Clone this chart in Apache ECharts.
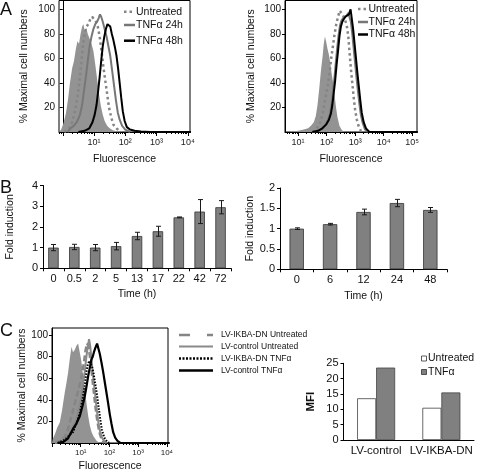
<!DOCTYPE html>
<html><head><meta charset="utf-8">
<script src="https://cdn.jsdelivr.net/npm/echarts@6/dist/echarts.min.js"></script>
<style>html,body{margin:0;padding:0;background:#fff}#c{width:477px;height:473px}</style>
</head><body><div id="c"></div><script>
// ---------- DATA ----------
// Panel A left: x = log10(fluorescence), y = % maximal cell numbers
const aL_isotype = [[-0.12,0],[-0.05,2],[0.02,7],[0.1,15],[0.17,27],[0.23,40],[0.3,52],[0.36,58],[0.42,68],[0.47,74],[0.52,72],[0.57,80],[0.62,86],[0.66,88],[0.7,83],[0.75,85],[0.8,80],[0.86,76],[0.92,72],[0.98,66],[1.04,55],[1.1,43],[1.16,31],[1.22,21],[1.28,14],[1.34,9],[1.42,5],[1.5,3],[1.6,1.5],[1.75,0.5],[1.9,0]];
const aL_untreated = [[0.05,0],[0.2,3],[0.3,8],[0.4,18],[0.48,30],[0.55,45],[0.6,58],[0.65,72],[0.7,80],[0.76,86],[0.82,88],[0.88,92],[0.94,94],[1.0,93],[1.06,90],[1.12,86],[1.18,78],[1.24,66],[1.3,53],[1.36,42],[1.42,31],[1.48,20],[1.55,12],[1.62,6],[1.72,3],[1.85,0]];
const aL_tnf24 = [[0.15,0],[0.25,3],[0.35,5],[0.45,8],[0.55,14],[0.62,22],[0.68,34],[0.74,45],[0.8,58],[0.86,70],[0.92,78],[0.98,84],[1.04,88],[1.1,90],[1.15,93],[1.19,96],[1.23,94],[1.28,90],[1.34,84],[1.4,78],[1.46,70],[1.52,62],[1.58,50],[1.64,38],[1.7,26],[1.76,16],[1.82,10],[1.9,5],[2.0,2],[2.15,0]];
const aL_tnf48 = [[0.5,0],[0.7,1],[0.85,3],[0.95,8],[1.02,14],[1.08,22],[1.13,33],[1.18,45],[1.23,58],[1.28,70],[1.33,78],[1.38,84],[1.43,88],[1.47,89],[1.52,86],[1.57,80],[1.62,75],[1.67,69],[1.72,62],[1.77,52],[1.82,40],[1.87,28],[1.92,17],[1.98,9],[2.05,4],[2.15,2],[2.3,1],[2.5,0.5],[2.8,0],[4.1,0]];
// Panel A right
const aR_isotype = [[0.54,0],[0.8,0.5],[1.0,1],[1.2,2],[1.35,3],[1.45,5],[1.55,8],[1.62,13],[1.68,22],[1.74,35],[1.8,50],[1.86,62],[1.9,72],[1.94,78],[1.98,74],[2.03,68],[2.08,63],[2.13,56],[2.18,47],[2.23,40],[2.28,30],[2.33,20],[2.38,12],[2.45,5],[2.52,2],[2.6,0]];
const aR_untreated = [[1.5,0],[1.65,3],[1.78,8],[1.88,17],[1.96,28],[2.04,38],[2.1,48],[2.16,60],[2.22,70],[2.28,80],[2.34,88],[2.4,94],[2.46,99],[2.52,97],[2.58,95],[2.64,94],[2.7,88],[2.76,78],[2.8,66],[2.85,52],[2.9,40],[2.95,28],[3.0,18],[3.06,10],[3.12,5],[3.2,1],[3.3,0]];
const aR_tnf24 = [[1.5,0],[1.7,1],[1.85,3],[1.96,6],[2.05,10],[2.12,15],[2.17,22],[2.22,32],[2.27,43],[2.32,56],[2.37,68],[2.42,79],[2.47,87],[2.52,91],[2.58,93],[2.64,94],[2.7,95],[2.76,97],[2.8,96],[2.85,90],[2.9,80],[2.95,68],[3.0,56],[3.05,44],[3.1,33],[3.15,23],[3.2,14],[3.27,7],[3.35,2],[3.45,0]];
const aR_tnf48 = [[1.5,0],[1.7,1],[1.85,3],[1.98,6],[2.08,10],[2.15,15],[2.2,22],[2.25,32],[2.3,42],[2.35,55],[2.4,66],[2.45,78],[2.5,86],[2.55,90],[2.6,92],[2.66,94],[2.72,95],[2.78,96],[2.84,100],[2.88,93],[2.93,84],[2.98,72],[3.03,60],[3.08,48],[3.13,37],[3.18,26],[3.23,16],[3.3,8],[3.38,3],[3.5,0],[5.2,0]];
// Panel B
const bL_times = ['0','0.5','2','5','13','17','22','42','72'];
const bL_fold = [1.0,1.03,1.0,1.07,1.56,1.79,2.46,2.74,2.95];
const bL_err = [0.15,0.13,0.15,0.18,0.18,0.24,0.02,0.58,0.32];
const bR_times = ['0','6','12','24','48'];
const bR_fold = [1.0,1.11,1.41,1.63,1.46];
const bR_err = [0.02,0.02,0.07,0.09,0.06];
// Panel C left
const cL_isotype = [[0,0],[0.03,4],[0.1,8],[0.18,14],[0.27,19],[0.35,30],[0.44,46],[0.5,55],[0.56,65],[0.62,78],[0.68,89],[0.73,84],[0.79,86],[0.85,90],[0.91,92],[0.96,85],[1.02,76],[1.08,63],[1.14,50],[1.2,37],[1.26,25],[1.32,16],[1.38,10],[1.45,6],[1.55,2],[1.66,0]];
const cL_ikbaUntreated = [[0.1,0],[0.3,2],[0.45,6],[0.55,12],[0.65,22],[0.75,32],[0.85,42],[0.93,50],[1.0,58],[1.06,66],[1.12,76],[1.17,86],[1.22,92],[1.27,90],[1.32,80],[1.37,70],[1.42,56],[1.47,44],[1.52,32],[1.58,20],[1.65,10],[1.72,4],[1.82,0]];
const cL_ctrlUntreated = [[0.1,0],[0.35,2],[0.55,6],[0.7,14],[0.85,22],[0.95,34],[1.02,42],[1.08,55],[1.14,66],[1.19,78],[1.24,88],[1.29,96],[1.33,90],[1.38,76],[1.43,62],[1.49,48],[1.55,33],[1.61,20],[1.67,11],[1.74,5],[1.83,1],[1.9,0]];
const cL_ikbaTnf = [[0.2,0],[0.45,3],[0.6,7],[0.73,10],[0.85,18],[0.97,28],[1.06,40],[1.14,53],[1.2,66],[1.25,73],[1.3,76],[1.35,77],[1.4,70],[1.45,64],[1.5,56],[1.56,46],[1.62,34],[1.68,22],[1.74,12],[1.82,5],[1.92,1],[2.0,0]];
const cL_ctrlTnf = [[0.2,0],[0.4,1],[0.55,4],[0.73,13],[0.85,18],[0.97,25],[1.06,34],[1.14,43],[1.2,52],[1.26,62],[1.32,70],[1.37,77],[1.42,80],[1.46,84],[1.51,88],[1.57,92],[1.62,87],[1.66,83],[1.72,75],[1.78,66],[1.84,56],[1.9,46],[1.96,36],[2.01,27],[2.07,18],[2.13,10],[2.2,5],[2.28,2],[2.38,0],[4.1,0]];
// Panel C right
const cR_groups = ['LV-control','LV-IKBA-DN'];
const cR_untreated = [13.6,10.5];
const cR_tnf = [23.6,15.5];
// tick labels
const histPctTicks = [20,40,60,80,100];

// ---------- STYLE / BUILD ----------
const FONT = "'Liberation Sans', Arial, sans-serif";
const SUP = ['\u2070','\u00B9','\u00B2','\u00B3','\u2074','\u2075'];
const GRAY_FILL = '#939393', GRAY_LINE = '#858585', BAR = '#808080';

function logTicks(lo, hi){
  const major=[], minor=[];
  for(let n=Math.floor(lo); n<=Math.ceil(hi); n++){
    if(n>=lo && n<=hi) major.push(n);
    for(let k=2;k<10;k++){ const v=n+Math.log10(k); if(v>=lo && v<=hi) minor.push(v); }
  }
  return {major, minor};
}
function histX(g, lo, hi, labels, fs, gap){
  const t = logTicks(lo, hi);
  return [
    {gridIndex:g, type:'value', min:lo, max:hi, position:'bottom',
     axisLine:{show:true, lineStyle:{color:'#000', width:1}},
     axisTick:{show:true, customValues:t.major, length:4, lineStyle:{color:'#000'}},
     axisLabel:{customValues:labels, formatter:v=>'10'+SUP[Math.round(v)], fontSize:fs, color:'#222', margin:6, fontFamily:FONT},
     splitLine:{show:false},
     name:'Fluorescence', nameLocation:'middle', nameGap:gap, nameTextStyle:{fontSize:10.5, color:'#111', fontFamily:FONT}},
    {gridIndex:g, type:'value', min:lo, max:hi, position:'bottom', axisLine:{show:false},
     axisTick:{show:true, customValues:t.minor, length:2, lineStyle:{color:'#000'}},
     axisLabel:{show:false}, splitLine:{show:false}}
  ];
}
function histY(g, max, gap){
  return {gridIndex:g, type:'value', min:0, max:max,
    axisLine:{show:true, lineStyle:{color:'#000'}},
    axisTick:{show:true, length:3, customValues:histPctTicks, lineStyle:{color:'#000'}},
    axisLabel:{customValues:histPctTicks, fontSize:10, color:'#111', margin:4, fontFamily:FONT},
    splitLine:{show:false},
    name:'% Maximal cell numbers', nameLocation:'middle', nameGap:gap,
    nameTextStyle:{fontSize:10.5, color:'#111', fontFamily:FONT}};
}
function catX(g, cats, name, gap, fs){
  return {gridIndex:g, type:'category', data:cats,
    axisLine:{show:true, lineStyle:{color:'#000'}},
    axisTick:{show:true, length:3, lineStyle:{color:'#000'}},
    axisLabel:{fontSize:fs, color:'#111', margin:5, interval:0, fontFamily:FONT},
    name:name, nameLocation:'middle', nameGap:gap, nameTextStyle:{fontSize:10.5, color:'#111', fontFamily:FONT}};
}
function valY(g, max, interval, name, gap, fs, bold){
  return {gridIndex:g, type:'value', min:0, max:max, interval:interval,
    axisLine:{show:true, lineStyle:{color:'#000'}},
    axisTick:{show:true, length:3, lineStyle:{color:'#000'}},
    axisLabel:{fontSize:fs, color:'#111', margin:5, fontFamily:FONT},
    splitLine:{show:false},
    name:name, nameLocation:'middle', nameGap:gap,
    nameTextStyle:{fontSize:bold?11.5:10.5, fontWeight:bold?'bold':'normal', color:'#111', fontFamily:FONT}};
}
function area(name, xi, yi, data){
  return {name, type:'line', xAxisIndex:xi, yAxisIndex:yi, data, symbol:'none', z:1,
    lineStyle:{width:0, color:GRAY_FILL}, itemStyle:{color:GRAY_FILL}, areaStyle:{color:GRAY_FILL, opacity:1}};
}
function curve(name, xi, yi, data, color, width, type, z){
  return {name, type:'line', xAxisIndex:xi, yAxisIndex:yi, data, symbol:'none', z:z||3,
    lineStyle:{width, color, type:type||'solid', cap:'butt'}, itemStyle:{color}};
}
function errBars(xi, yi, vals, errs, cap){
  return {type:'custom', xAxisIndex:xi, yAxisIndex:yi, z:6,
    data: vals.map((v,i)=>[i, v, errs[i]]),
    renderItem:(params, api)=>{
      const i=api.value(0), v=api.value(1), e=api.value(2);
      const t=api.coord([i, v+e]), b=api.coord([i, v-e]);
      const x=Math.round(t[0])+0.5;
      const st={stroke:'#1a1a1a', lineWidth:1};
      return {type:'group', children:[
        {type:'line', shape:{x1:x,y1:t[1],x2:x,y2:b[1]}, style:st},
        {type:'line', shape:{x1:x-cap,y1:t[1],x2:x+cap,y2:t[1]}, style:st},
        {type:'line', shape:{x1:x-cap,y1:b[1],x2:x+cap,y2:b[1]}, style:st}]};
    }};
}
function gtext(x, y, text, fs){
  return {type:'text', x, y, z:100, style:{text, fontSize:fs, fontFamily:FONT, fill:'#111', align:'left', verticalAlign:'middle'}};
}
function gline(x1, y1, x2, y2, color, w, dash){
  return {type:'line', z:100, shape:{x1,y1,x2,y2}, style:{stroke:color, lineWidth:w, lineDash:dash||null}};
}
function grect(x, y, w, h, fill){
  return {type:'rect', z:100, shape:{x,y,width:w,height:h}, style:{fill, stroke:'#333', lineWidth:0.8}};
}

const box = {show:true, borderColor:'#000', borderWidth:1, backgroundColor:'transparent'};
const option = {
  animation:false,
  backgroundColor:'#fff',
  textStyle:{fontFamily:FONT},
  grid:[
    Object.assign({left:59, top:0.5, width:131, height:131.5}, box),
    Object.assign({left:285, top:0.5, width:132, height:131.5}, box),
    {left:43, top:185.5, width:188, height:82.8},
    {left:280, top:188, width:167, height:81.3},
    Object.assign({left:52, top:328, width:116, height:116}, box),
    {left:343.5, top:363.3, width:130.5, height:76.7}
  ],
  xAxis:[
    ...histX(0, -0.12, 4.07, [1,2,3,4], 9, 22),
    ...histX(1, 0.54, 5.17, [1,2,3,4,5], 9, 22),
    catX(2, bL_times, 'Time (h)', 20, 11),
    catX(3, bR_times, 'Time (h)', 21, 11),
    ...histX(4, 0, 4.04, [1,2,3,4], 8, 18),
    Object.assign(catX(5, cR_groups, '', 0, 11.5), {axisTick:{show:false}})
  ],
  yAxis:[
    histY(0, 107.3, 29),
    histY(1, 107.3, 28),
    valY(2, 4, 1, 'Fold induction', 27, 11),
    valY(3, 2, 0.5, 'Fold induction', 24, 11),
    histY(4, 106.4, 22),
    valY(5, 25, 5, 'MFI', 27, 11, true)
  ],
  series:[
    area('aL iso', 0, 0, aL_isotype),
    curve('aL untreated', 0, 0, aL_untreated, GRAY_LINE, 2.5, [2.5,3]),
    curve('aL 24h', 0, 0, aL_tnf24, '#777', 2),
    curve('aL 48h', 0, 0, aL_tnf48, '#000', 2, 'solid', 4),
    area('aR iso', 2, 1, aR_isotype),
    curve('aR untreated', 2, 1, aR_untreated, GRAY_LINE, 2.5, [2.5,3]),
    curve('aR 24h', 2, 1, aR_tnf24, '#777', 2),
    curve('aR 48h', 2, 1, aR_tnf48, '#000', 2, 'solid', 4),
    {name:'bL', type:'bar', xAxisIndex:4, yAxisIndex:2, data:bL_fold, barWidth:'50%',
     itemStyle:{color:BAR, borderColor:'#333', borderWidth:0.8}},
    errBars(4, 2, bL_fold, bL_err, 2.5),
    {name:'bR', type:'bar', xAxisIndex:5, yAxisIndex:3, data:bR_fold, barWidth:'43%',
     itemStyle:{color:BAR, borderColor:'#333', borderWidth:0.8}},
    errBars(5, 3, bR_fold, bR_err, 2.5),
    area('cL iso', 6, 4, cL_isotype),
    curve('cL ikba untreated', 6, 4, cL_ikbaUntreated, GRAY_LINE, 2.5, [6,3]),
    curve('cL ctrl untreated', 6, 4, cL_ctrlUntreated, '#8a8a8a', 2),
    curve('cL ikba tnf', 6, 4, cL_ikbaTnf, '#000', 2, [1.5,1.5], 4),
    curve('cL ctrl tnf', 6, 4, cL_ctrlTnf, '#000', 2.2, 'solid', 5),
    {name:'Untreated', type:'bar', xAxisIndex:8, yAxisIndex:5, data:cR_untreated, barWidth:19, barGap:'0%',
     itemStyle:{color:'#fff', borderColor:'#444', borderWidth:0.8}},
    {name:'TNFα', type:'bar', xAxisIndex:8, yAxisIndex:5, data:cR_tnf, barWidth:19, barGap:'0%',
     itemStyle:{color:BAR, borderColor:'#444', borderWidth:0.8}}
  ],
  graphic:[
    gtext(0, 10, 'A', 18), gtext(0, 188, 'B', 18), gtext(0, 331, 'C', 18),
    // A left legend
    gline(124, 11.7, 133, 11.7, GRAY_LINE, 2.5, [2.5,3]), gtext(136, 11.7, 'Untreated', 10.5),
    gline(124, 25, 135, 25, '#777', 2.5), gtext(136, 25, 'TNFα 24h', 10.5),
    gline(124, 40.7, 135, 40.7, '#000', 2.5), gtext(136, 40.7, 'TNFα 48h', 10.5),
    // A right legend
    gline(358, 9, 366, 9, GRAY_LINE, 2.5, [2.5,3]), gtext(368.5, 9, 'Untreated', 10.5),
    gline(358, 22, 368, 22, '#777', 2.5), gtext(368.5, 22, 'TNFα 24h', 10.5),
    gline(358, 34.5, 368, 34.5, '#000', 2.5), gtext(368.5, 34.5, 'TNFα 48h', 10.5),
    // C legend
    gline(179, 335, 213, 335, GRAY_LINE, 2.5, [11,17]), gtext(221, 335, 'LV-IKBA-DN Untreated', 8.5),
    gline(179, 346.5, 213, 346.5, '#8a8a8a', 2), gtext(221, 346.5, 'LV-control Untreated', 8.5),
    gline(179, 358.5, 213, 358.5, '#000', 2.5, [2,1.5]), gtext(221, 358.5, 'LV-IKBA-DN TNFα', 8.5),
    gline(179, 370.5, 213, 370.5, '#000', 2.5), gtext(221, 370.5, 'LV-control TNFα', 8.5),
    // C right legend
    grect(421.5, 356, 5, 5, '#fff'), gtext(428, 358.5, 'Untreated', 10.5),
    grect(421.5, 369.5, 5, 5, BAR), gtext(428, 372, 'TNFα', 10.5)
  ]
};
echarts.init(document.getElementById('c'), null, {renderer:'canvas'}).setOption(option);
</script></body></html>
